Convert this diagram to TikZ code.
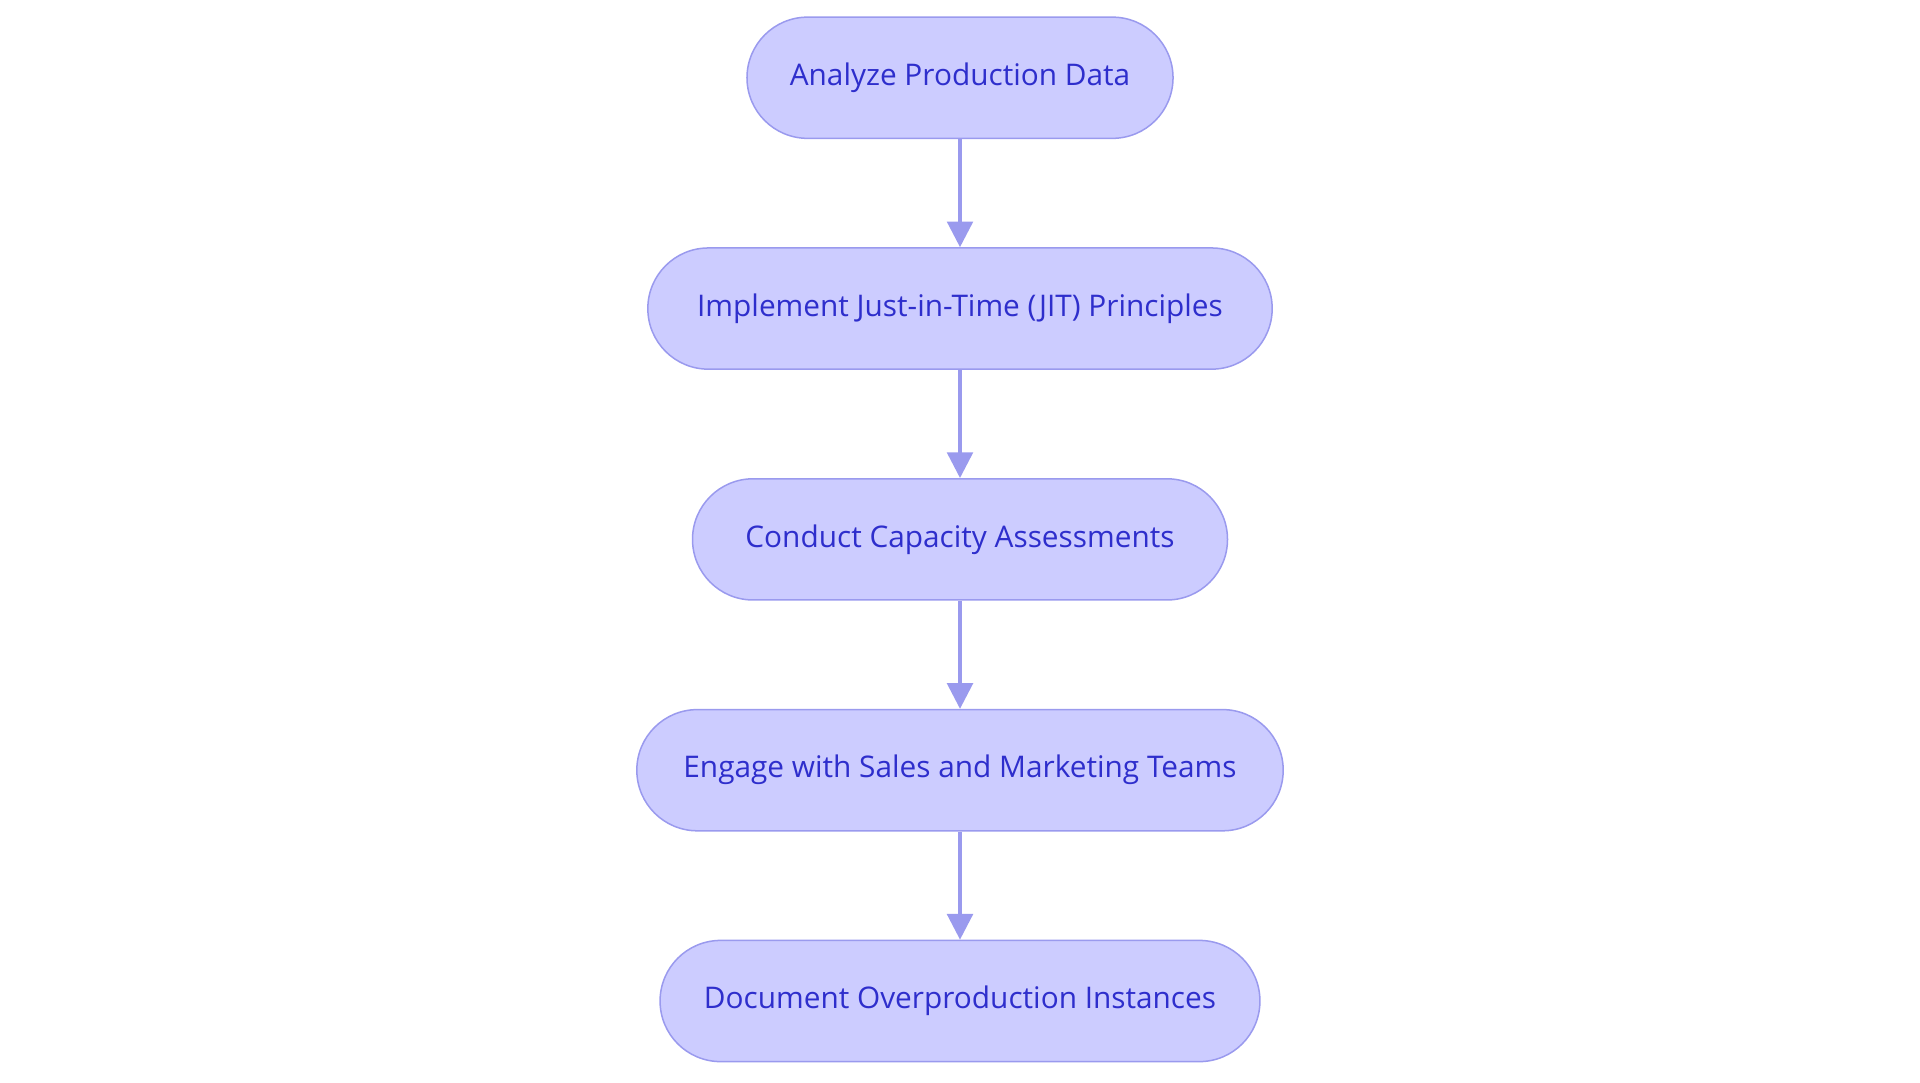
\documentclass[tikz,border=0pt]{standalone}
\usepackage{fontspec}
\setmainfont{Open Sans}
\usetikzlibrary{arrows.meta}
\definecolor{boxfill}{HTML}{CCCCFF}
\definecolor{boxdraw}{HTML}{9A9AEE}
\definecolor{boxtext}{HTML}{2E2ECC}
\begin{document}
\begin{tikzpicture}[
    x=0.02cm, y=-0.02cm,
    stage/.style = {draw=boxdraw, fill=boxfill, text=boxtext, rounded corners=0.99cm,
                   minimum height=1.98cm, font=\fontsize{13.85}{16}\selectfont, line width=0.7pt},
    line/.style = {-{Triangle[length=0.42cm,width=0.42cm]}, draw=boxdraw, line width=1.6pt}
    ]
    \useasboundingbox (0,0) rectangle (1568,884);
    \node[stage, minimum width=6.96cm] (analyze) at (784,63.5) {Analyze Production Data};
    \node[stage, minimum width=10.2cm] (jit) at (784,252) {Implement Just-in-Time (JIT) Principles};
    \node[stage, minimum width=8.74cm] (capacity) at (784,440.5) {Conduct Capacity Assessments};
    \node[stage, minimum width=10.56cm] (sales) at (784,629) {Engage with Sales and Marketing Teams};
    \node[stage, minimum width=9.8cm] (document) at (784,817.5) {Document Overproduction Instances};

    \draw[line] (analyze) -- (jit);
    \draw[line] (jit) -- (capacity);
    \draw[line] (capacity) -- (sales);
    \draw[line] (sales) -- (document);
\end{tikzpicture}
\end{document}
